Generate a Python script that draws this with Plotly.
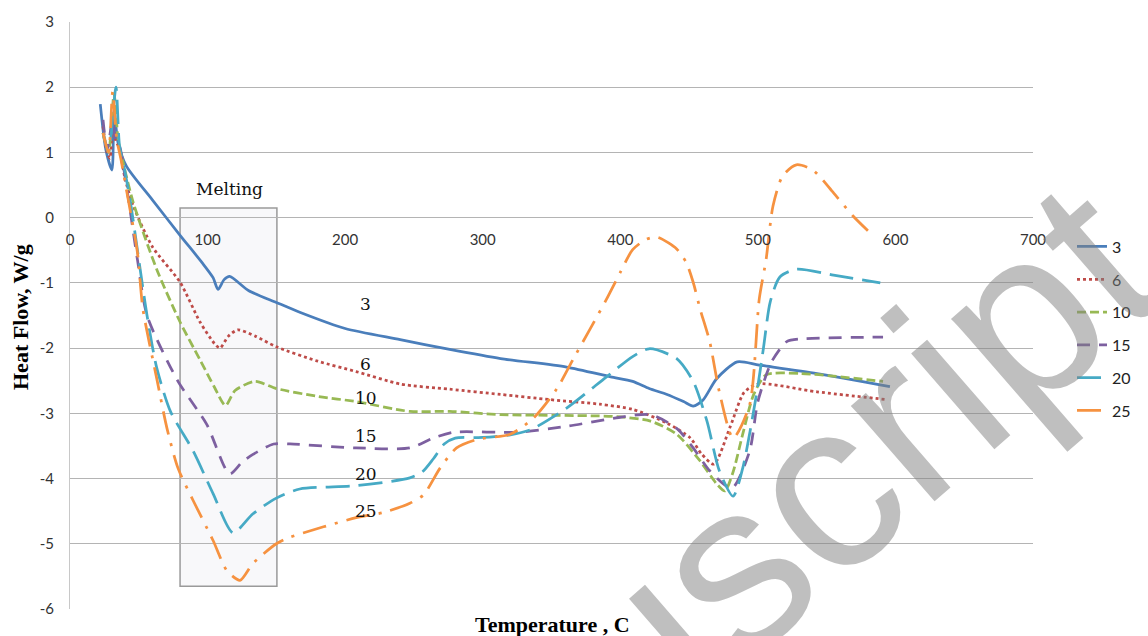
import plotly.graph_objects as go

# Heat flow (W/g) versus temperature (C) for six sample loadings
t3 = [22, 26, 30.5, 32, 35, 41, 60, 80, 96, 104, 107.6, 112, 116, 130, 150, 167, 200, 240, 276, 313, 361, 393, 409, 421, 434, 446, 453, 460, 470, 485, 501, 543, 596]
h3 = [1.74, 1.05, 0.73, 1.65, 1.14, 0.79, 0.27, -0.27, -0.69, -0.92, -1.10, -0.95, -0.90, -1.12, -1.30, -1.45, -1.70, -1.87, -2.02, -2.16, -2.29, -2.44, -2.51, -2.62, -2.71, -2.82, -2.89, -2.80, -2.47, -2.21, -2.26, -2.39, -2.59]

t6 = [24, 27, 29, 31, 33, 36, 40, 46, 60, 80, 94.5, 105, 109, 115, 122, 135, 150, 180, 208, 240, 276, 313, 349, 385, 409, 434, 451, 459, 468, 480, 490, 500, 543, 594]
h6 = [1.4, 1.0, 0.91, 1.5, 1.2, 1.05, 0.6, 0.18, -0.45, -0.99, -1.6, -1.93, -2.0, -1.82, -1.72, -1.82, -1.98, -2.2, -2.36, -2.55, -2.63, -2.71, -2.79, -2.86, -2.94, -3.15, -3.38, -3.62, -3.78, -3.2, -2.68, -2.55, -2.67, -2.79]

t10 = [24, 28, 32, 35, 38, 46, 63, 80, 94.5, 105, 113, 120, 134.5, 150, 180, 208, 247, 276, 313, 397, 422, 441, 458, 470, 476, 482, 489, 497, 506, 531, 591]
h10 = [1.3, 1.0, 1.9, 1.2, 0.9, 0.23, -0.79, -1.6, -2.18, -2.6, -2.88, -2.65, -2.51, -2.62, -2.74, -2.82, -2.97, -2.97, -3.02, -3.05, -3.12, -3.32, -3.73, -4.08, -4.19, -3.9, -3.32, -2.71, -2.41, -2.39, -2.51]

t15 = [24, 27, 31, 33, 36, 41, 49, 56, 78, 99.4, 116, 125, 133, 148, 160, 208, 247, 264, 279, 325, 361, 397, 422, 441, 453, 465, 481, 494, 500, 510, 521, 531, 591]
h15 = [1.5, 1.05, 1.5, 1.2, 1.1, 0.49, -0.64, -1.5, -2.49, -3.17, -3.93, -3.75, -3.63, -3.47, -3.47, -3.53, -3.53, -3.38, -3.29, -3.29, -3.2, -3.07, -3.02, -3.23, -3.53, -3.88, -4.15, -3.58, -2.82, -2.21, -1.90, -1.86, -1.83]

t20 = [24, 28, 33.4, 36, 40, 44, 51, 56, 63, 73, 89.6, 104, 118.5, 133, 150, 167, 208, 247, 256, 264, 272, 280, 300, 320, 335, 361, 390, 409, 421, 441, 453, 463, 472, 482, 489, 499, 504, 509, 516, 528, 555, 589]
h20 = [1.3, 1.0, 2.0, 1.1, 0.7, 0.23, -0.79, -1.5, -2.3, -2.97, -3.58, -4.23, -4.83, -4.54, -4.3, -4.16, -4.11, -3.99, -3.9, -3.7, -3.47, -3.38, -3.37, -3.33, -3.25, -2.92, -2.44, -2.13, -2.01, -2.16, -2.51, -3.12, -3.88, -4.27, -3.84, -2.71, -2.01, -1.29, -0.91, -0.79, -0.88, -1.0]

t25 = [24, 28, 31, 34, 37, 41, 49, 53, 63, 70.5, 78.5, 89.6, 104, 114, 123.6, 133, 150, 160, 208, 228, 247, 257, 269, 281, 296, 320, 337, 354, 366, 378, 390, 400, 409, 419, 427, 441, 448, 453, 458, 465, 472, 482, 494, 501, 506, 511, 518, 528, 540, 555, 569, 580]
h25 = [1.3, 1.0, 1.93, 1.2, 0.9, 0.43, -0.53, -1.4, -2.46, -3.23, -3.84, -4.34, -4.95, -5.41, -5.56, -5.3, -5.0, -4.9, -4.6, -4.52, -4.38, -4.25, -3.84, -3.53, -3.4, -3.32, -3.07, -2.62, -2.16, -1.71, -1.25, -0.84, -0.49, -0.33, -0.30, -0.48, -0.69, -0.99, -1.4, -1.9, -2.67, -3.38, -2.87, -1.25, -0.64, 0.18, 0.64, 0.81, 0.73, 0.38, 0.03, -0.2]

series_names = ["3", "6", "10", "15", "20", "25"]
temps = [t3, t6, t10, t15, t20, t25]
flows = [h3, h6, h10, h15, h20, h25]
colors = ["#4A7EBB", "#BE4B48", "#98B954", "#7D60A0", "#46AAC5", "#F69240"]
dashes = ["solid", "dot", "9px,4px", "13px,9px", "24px,9px", "24px,9px,3px,9px"]

# curve captions placed beside each trace
caption_x = 215
caption_y = [-1.32, -2.25, -2.77, -3.35, -3.93, -4.49]

y_ticks = [3, 2, 1, 0, -1, -2, -3, -4, -5, -6]
y_tick_text = ["3", "2", "1", "0", "-1", "-2", "-3", "-4", "-5", "-6"]
x_ticks = [0, 100, 200, 300, 400, 500, 600, 700]

# Melting window
melt_x0, melt_x1 = 80, 150.4
melt_y0, melt_y1 = -5.65, 0.15

fig = go.Figure()
for name, tx, hy, col, dsh in zip(series_names, temps, flows, colors, dashes):
    fig.add_trace(go.Scatter(
        x=tx, y=hy, mode="lines", name=name, legendgroup=name,
        line=dict(color=col, width=2.75, dash=dsh, shape="spline", smoothing=0.7),
    ))

W, H = 1148, 636
L, R, T, B = 70, 115, 18, 27
pw, ph = W - L - R, H - T - B


def px_to_paper(px, py):
    return (px - L) / pw, (H - B - py) / ph


fig.add_shape(type="rect", x0=melt_x0, x1=melt_x1, y0=melt_y0, y1=melt_y1,
              xref="x", yref="y", line=dict(color="#9a9a9a", width=1.5),
              fillcolor="rgba(236,236,242,0.35)", layer="below")

serif = "DejaVu Serif"
annotations = []
annotations.append(dict(x=115.6, y=0.44, xref="x", yref="y", text="Melting", showarrow=False,
                        xanchor="center", yanchor="middle",
                        font=dict(family=serif, size=17, color="#111")))
for name, cy in zip(series_names, caption_y):
    annotations.append(dict(x=caption_x, y=cy, xref="x", yref="y", text=name, showarrow=False,
                            xanchor="center", yanchor="middle",
                            font=dict(family=serif, size=17, color="#111")))

ax, ay = px_to_paper(552, 625)
annotations.append(dict(x=ax, y=ay, xref="paper", yref="paper", text="<b>Temperature , C</b>",
                        showarrow=False, xanchor="center", yanchor="middle",
                        font=dict(family="Liberation Serif", size=22, color="#000")))
ax, ay = px_to_paper(21, 315)
annotations.append(dict(x=ax, y=ay, xref="paper", yref="paper", text="<b>Heat Flow, W/g</b>",
                        textangle=-90, showarrow=False, xanchor="center", yanchor="middle",
                        font=dict(family="Liberation Serif", size=22, color="#000")))
ax, ay = px_to_paper(852, 462)
annotations.append(dict(x=ax, y=ay, xref="paper", yref="paper", text="uscript", textangle=-41,
                        showarrow=False, xanchor="center", yanchor="middle",
                        font=dict(family="Liberation Sans", size=240, color="rgba(128,128,128,0.5)")))

lx, ly = px_to_paper(1072, 227)

fig.update_layout(
    width=W, height=H,
    margin=dict(l=L, r=R, t=T, b=B),
    paper_bgcolor="white", plot_bgcolor="white",
    font=dict(family="Lato", size=15, color="#333"),
    showlegend=True,
    legend=dict(x=lx, y=ly, xanchor="left", yanchor="top", tracegroupgap=9,
                font=dict(family="Lato", size=16, color="#222"), bgcolor="rgba(0,0,0,0)"),
    annotations=annotations,
    xaxis=dict(range=[0, 700], tickvals=x_ticks, showgrid=False, zeroline=False, showline=False,
               anchor="free", position=6 / 9, ticks="outside", ticklen=8,
               tickcolor="rgba(0,0,0,0)", tickfont=dict(family="Lato", size=15, color="#333")),
    yaxis=dict(range=[-6, 3], tickvals=y_ticks, ticktext=y_tick_text, showgrid=True,
               gridcolor="#b4b4b4", gridwidth=1, zeroline=False, showline=True,
               linecolor="#c8c8c8", ticks="outside", ticklen=12, tickcolor="rgba(0,0,0,0)",
               tickfont=dict(family="Lato", size=15, color="#333")),
)

fig.write_html("out.html")
